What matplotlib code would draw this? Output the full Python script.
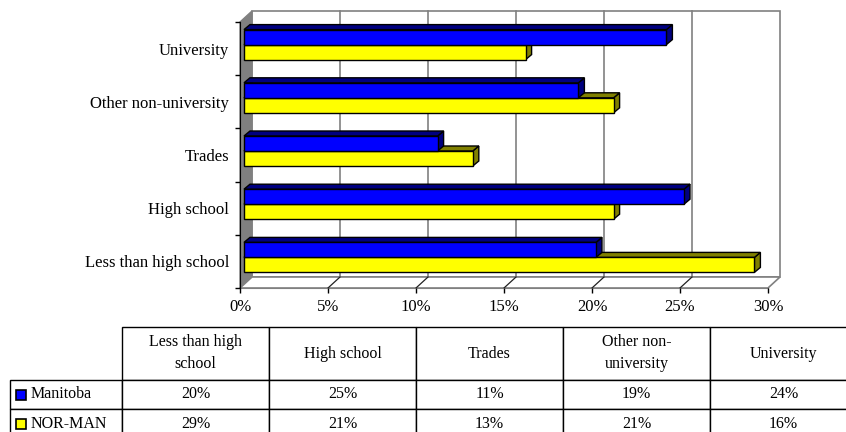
import matplotlib
matplotlib.use("Agg")
import matplotlib.pyplot as plt
from matplotlib.patches import Polygon, Rectangle
from matplotlib.table import Table

plt.rcParams['font.family'] = ['Liberation Serif', 'DejaVu Serif']

categories = ["Less than high school", "High school", "Trades",
              "Other non-university", "University"]
table_headers = ["Less than high\nschool", "High school", "Trades",
                 "Other non-\nuniversity", "University"]
manitoba = [20, 25, 11, 19, 24]
norman = [29, 21, 13, 21, 16]
series_names = ["Manitoba", "NOR-MAN"]
x_ticks = [0, 5, 10, 15, 20, 25, 30]

BLUE, BLUE_DARK = "#0000ff", "#000080"
YELLOW, YELLOW_DARK = "#ffff00", "#808000"
GRAY = "#808080"
FS = 12

W, H = 846, 432
fig = plt.figure(figsize=(W / 100, H / 100), dpi=100)

# front plane of the fake 3d box
ax = fig.add_axes([240 / W, 1 - 288 / H, 528 / W, 266 / H])
ax.set_xlim(0, 30)
ax.set_ylim(-0.5, 4.5)
ax.patch.set_visible(False)

# pixel sizes converted to data units
ux = 30 / 528
uy = 5 / 266
wdx, wdy = 12 * ux, 11 * uy     # wall depth
bdx, bdy = 4 * ux, 4 * uy       # bars sit a bit into the box
ddx, ddy = 6 * ux, 5 * uy       # bar depth
bar_h = 15 * uy

y0, y1 = -0.5, 4.5
# back wall + gridlines
ax.add_patch(Polygon([(wdx, y0 + wdy), (30 + wdx, y0 + wdy), (30 + wdx, y1 + wdy), (wdx, y1 + wdy)],
                     closed=True, fc="white", ec=GRAY, lw=1.2, zorder=0.5, clip_on=False))
for x in x_ticks[1:-1]:
    ax.plot([x + wdx, x + wdx], [y0 + wdy, y1 + wdy], color=GRAY, lw=1.2, zorder=0.6, clip_on=False)
# left wall
ax.add_patch(Polygon([(0, y0), (wdx, y0 + wdy), (wdx, y1 + wdy), (0, y1)],
                     closed=True, fc=GRAY, ec=GRAY, lw=1, zorder=0.7, clip_on=False))
# floor
ax.add_patch(Polygon([(0, y0), (30, y0), (30 + wdx, y0 + wdy), (wdx, y0 + wdy)],
                     closed=True, fc="white", ec=GRAY, lw=1.2, zorder=0.7, clip_on=False))
for x in x_ticks[1:-1]:
    ax.plot([x, x + wdx], [y0, y0 + wdy], color="#202020", lw=0.9, zorder=0.8, clip_on=False)


def bar3d(val, yc, face, dark):
    x0 = bdx
    x1 = val + bdx
    b = yc - bar_h / 2 + bdy
    t = yc + bar_h / 2 + bdy
    kw = dict(ec="black", lw=1, clip_on=False, zorder=3, joinstyle="miter")
    ax.add_patch(Polygon([(x1, b), (x1 + ddx, b + ddy), (x1 + ddx, t + ddy), (x1, t)],
                         closed=True, fc=dark, **kw))
    ax.add_patch(Polygon([(x0, t), (x1, t), (x1 + ddx, t + ddy), (x0 + ddx, t + ddy)],
                         closed=True, fc=dark, **kw))
    ax.add_patch(Rectangle((x0, b), val, t - b, fc=face, **kw))


for i in range(len(categories)):
    bar3d(norman[i], i - bar_h / 2, YELLOW, YELLOW_DARK)
    bar3d(manitoba[i], i + bar_h / 2, BLUE, BLUE_DARK)

for side in ["top", "right"]:
    ax.spines[side].set_visible(False)
ax.spines["bottom"].set_color(GRAY)
ax.spines["left"].set_color("black")
ax.spines["bottom"].set_zorder(0.9)

ax.set_yticks(range(len(categories)))
ax.set_yticklabels(categories, fontsize=FS)
ax.set_yticks([i - 0.5 for i in range(len(categories) + 1)], minor=True)
ax.tick_params(axis="y", which="major", length=0, pad=8)
ax.tick_params(axis="y", which="minor", length=3.6, width=1, color="black")
ax.set_xticks(x_ticks)
ax.set_xticklabels([f"{x}%" for x in x_ticks], fontsize=FS)
ax.tick_params(axis="x", length=3.6, width=1, color="black", pad=4)

# data table underneath (label column 112px, data columns 147px)
TW, TH = 847, 111
tax = fig.add_axes([10 / W, -6 / H, TW / W, TH / H])
tax.axis("off")
lab_w, col_w = 112 / TW, 147 / TW
head_h, row_h = 53 / TH, 29 / TH

tbl = Table(tax, bbox=[0, 0, 1, 1])
for j, head in enumerate(table_headers):
    tbl.add_cell(0, j + 1, col_w, head_h, text=head, loc="center")
for i, (name, vals) in enumerate(zip(series_names, [manitoba, norman])):
    c = tbl.add_cell(i + 1, 0, lab_w, row_h, text=name, loc="left")
    c.PAD = 0.18
    for j, v in enumerate(vals):
        tbl.add_cell(i + 1, j + 1, col_w, row_h, text=f"{v}%", loc="center")
tbl.auto_set_font_size(False)
tbl.set_fontsize(FS - 0.5)
for cell in tbl.get_celld().values():
    cell.set_linewidth(1)
    cell.set_edgecolor("black")
    cell.get_text().set_linespacing(1.5)
tax.add_table(tbl)

# legend keys inside the label cells
for k, col in enumerate([BLUE, YELLOW]):
    yb = (1 - k) * row_h + (row_h - 11 / TH) / 2
    tax.add_patch(Rectangle((6 / TW, yb), 10 / TW, 10 / TH, fc=col, ec="black",
                            lw=1.2, transform=tax.transAxes, clip_on=False, zorder=5))

fig.savefig("out.png", dpi=100, facecolor="white")
